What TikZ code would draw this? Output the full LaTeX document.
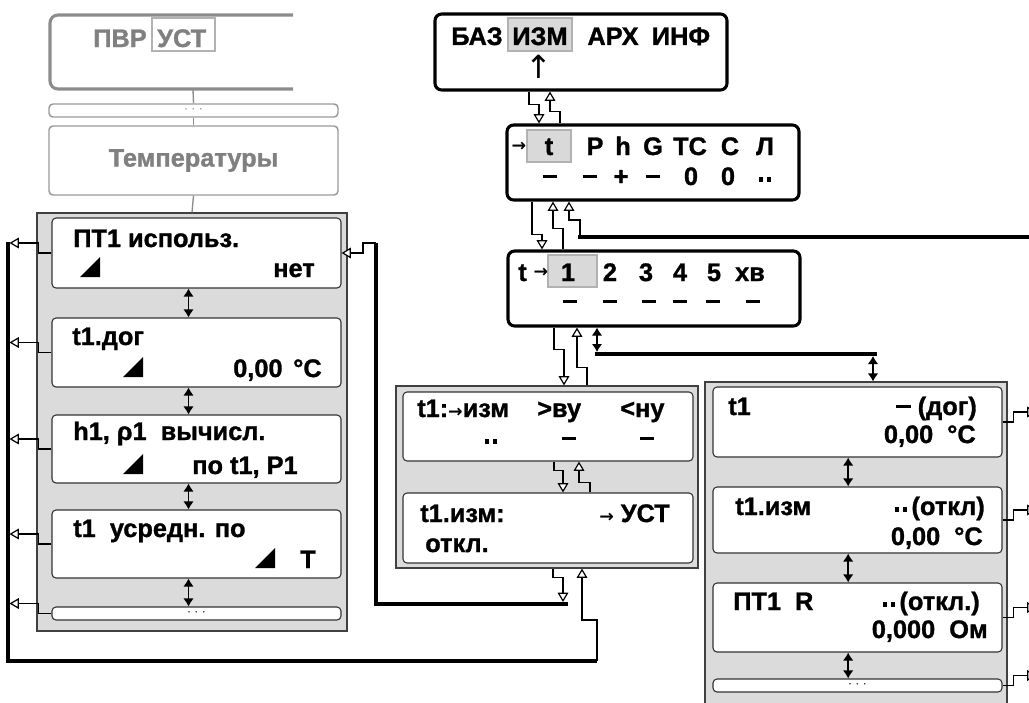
\documentclass[tikz,border=0pt]{standalone}
\usepackage{fontspec}
\setmainfont{Liberation Sans}[BoldFeatures={FakeBold=1.2}]
\newfontfamily\symfont{DejaVu Sans}
\usetikzlibrary{arrows.meta,calc}
\newcommand{\dts}{\rule[2.5pt]{3.5pt}{3.5pt}\hspace{2.5pt}\rule[2.5pt]{3.5pt}{3.5pt}}
\newcommand{\dsh}{\rule[5.5pt]{11pt}{2.3pt}}
\newcommand{\ra}{{\symfont\bfseries\fontsize{13}{13}\selectfont →}}
\tikzset{
  txt/.style={font=\fontsize{19}{21}\selectfont\bfseries, inner sep=0pt},
  gtx/.style={text=black!50},
  sz/.style 2 args={minimum width=#1*0.75pt, minimum height=#2*0.75pt},
  scr/.style={draw, line width=2.3pt, rounded corners=5pt, fill=white, inner sep=0pt},
  panel/.style={draw=black!75, fill=black!14, line width=0.8pt, inner sep=0pt},
  lbox/.style={draw=black!80, fill=white, line width=0.8pt, rounded corners=3pt, inner sep=0pt},
  gbox/.style={draw=black!40, line width=1.1pt, rounded corners=3pt, inner sep=0pt},
  hl/.style={fill=black!15, draw=black!30, line width=1pt, inner sep=0pt},
  oarr/.style={-{Triangle[length=7pt,width=8pt,fill=white]}, line width=0.9pt},
  updn/.style={{Latex[length=6pt,width=8pt]}-{Latex[length=6pt,width=8pt]}, line width=1.2pt},
  bus/.style={line width=3pt},
  gline/.style={draw=black!45, line width=1pt},
  dotz/.style={font=\fontsize{9}{9}\selectfont, inner sep=0pt},
}

\begin{document}
\begin{tikzpicture}[x=0.75pt,y=-0.75pt]
\useasboundingbox (0,0) rectangle (1029,703);

% upper left, grey part
\draw[draw=black!45, line width=2.3pt, rounded corners=6pt] (293,15) -- (50,15) -- (50,89) -- (293,89);
\coordinate (pvrB) at (193,89);
\node[txt,gtx,anchor=base west] (pvr) at (93,47) {ПВР};
\node[draw=black!30, line width=1.5pt, sz={63}{33}] (ust) at (183.5,34.5) {};
\node[txt,gtx,anchor=base west] (ustt) at (157,47) {УСТ};
\node[gbox,sz={289}{13}] (dots1) at (193.5,110.5) {};
\node[dotz,text=black!50] (dots1t) at (dots1) {· · ·};
\node[gbox,sz={289}{69}] (temp) at (193.5,160.5) {};
\node[txt,gtx] (tempt) at (temp) {Температуры};

% panels
\node[panel,sz={310}{418}] (LP) at (192,422) {};
\node[panel,sz={302}{182}] (MP) at (547,477) {};
\node[panel,sz={302}{338}] (RP) at (856,551) {};

% screens
\node[scr,sz={292}{76}] (baz) at (581,52) {};
\node[scr,sz={292}{75}] (tpan) at (653,162.5) {};
\node[scr,sz={292}{75}] (t1pan) at (654,288.5) {};

% left boxes
\node[lbox,sz={289}{70}] (L1) at (196.5,253) {};
\node[lbox,sz={289}{69}] (L2) at (196.5,352.5) {};
\node[lbox,sz={289}{68}] (L3) at (196.5,449) {};
\node[lbox,sz={289}{68}] (L4) at (196.5,544) {};
\node[lbox,sz={289}{13}] (L5) at (196.5,613.5) {};
% middle boxes
\node[lbox,sz={290}{69}] (M1) at (548,426.5) {};
\node[lbox,sz={290}{70}] (M2) at (548,528) {};
% right boxes
\node[lbox,sz={289}{70}] (R1) at (857.5,422) {};
\node[lbox,sz={289}{66}] (R2) at (857.5,520) {};
\node[lbox,sz={289}{69}] (R3) at (857.5,617.5) {};
\node[lbox,sz={289}{13}] (R4) at (857.5,685.5) {};

% highlights
\node[hl,sz={64}{33}] (hl1) at (540,34.5) {};
\node[hl,sz={44}{32}] (hl2) at (549,146) {};
\node[hl,sz={49}{32}] (hl3) at (572.5,271) {};

% texts: top screen
\node[txt,anchor=base east] (bz1) at (503,45) {БАЗ};
\node[txt,anchor=base] (bz2) at (540,45) {ИЗМ};
\node[txt,anchor=base] (bz3) at (613,45) {АРХ};
\node[txt,anchor=base] (bz4) at (681,45) {ИНФ};
\node[inner sep=0pt,font=\symfont\fontsize{24}{24}\selectfont] (bz5) at (539,67) {↑};

% channel screen
\node[inner sep=0pt] (tp0) at (519,147) {\ra};
\foreach \x/\s in {549/t,595/P,623/h,653/G,690/TC,730/C,765/Л}
  \node[txt,anchor=base] (ta\x) at (\x,155) {\s};
\foreach \x/\s in {550/\dsh,590/\dsh,621/+,653/\dsh,691/0,728/0,765/\dts}
  \node[txt,anchor=base] (tb\x) at (\x,185) {\s};

% sensor screen
\node[txt,anchor=base west] (t1a) at (518,281) {t};
\node[inner sep=0pt] (t1b) at (541,273) {\ra};
\foreach \x/\s in {568/1,610/2,646/3,680/4,714/5,750/хв}
  \node[txt,anchor=base] (tc\x) at (\x,281) {\s};
\foreach \x in {570,610,649,680,713,753}
  \node[txt,anchor=base] (td\x) at (\x,310) {\dsh};

% left texts
\node[txt,anchor=base west] (l1a) at (73,247) {ПТ1 использ.};
\node[txt,anchor=base east] (l1b) at (315,277) {нет};
\node[txt,anchor=base west] (l2a) at (72,345) {t1.дог};
\node[txt,anchor=base west] (l2b) at (233,377) {0,00};
\node[txt,anchor=base west] (l2c) at (293,377) {°C};
\node[txt,anchor=base west] (l3a) at (73,440) {h1, ρ1\ \ вычисл.};
\node[txt,anchor=base west] (l3b) at (192,474) {по t1, P1};
\node[txt,anchor=base west] (l4a) at (73,537) {t1\ \ усредн. по};
\node[txt,anchor=base west] (l4b) at (300,568) {T};
\node[dotz] (l5t) at (L5) {· · ·};
\fill (80,277) -- (100,257) -- (100,277) -- cycle;
\fill (123,377) -- (143,357) -- (143,377) -- cycle;
\fill (123,474) -- (143,454) -- (143,474) -- cycle;
\fill (255,568) -- (275,548) -- (275,568) -- cycle;

% middle texts
\node[txt,anchor=base west] (m1a) at (417,417) {t1:\ra изм};
\node[txt,anchor=base west] (m1b) at (537,417) {>ву};
\node[txt,anchor=base west] (m1c) at (620,417) {<ну};
\node[txt,anchor=base] (m1d) at (491,447) {\dts};
\node[txt,anchor=base] (m1e) at (569,447) {\dsh};
\node[txt,anchor=base] (m1f) at (647,447) {\dsh};
\node[txt,anchor=base west] (m2a) at (420,522) {t1.изм:};
\node[txt,anchor=base east] (m2b) at (670,522) {\ra\ УСТ};
\node[txt,anchor=base west] (m2c) at (425,552) {откл.};

% right texts
\node[txt,anchor=base west] (r1a) at (728,415) {t1};
\node[txt,anchor=base east] (r1b) at (977,415) {\dsh\ (дог)};
\node[txt,anchor=base east] (r1c) at (976,443) {0,00\ \ °C};
\node[txt,anchor=base west] (r2a) at (735,515) {t1.изм};
\node[txt,anchor=base east] (r2b) at (985,515) {\dts\,(откл)};
\node[txt,anchor=base east] (r2c) at (983,545) {0,00\ \ °C};
\node[txt,anchor=base west] (r3a) at (733,610) {ПТ1\ \ R};
\node[txt,anchor=base east] (r3b) at (980,610) {\dts\,(откл.)};
\node[txt,anchor=base east] (r3c) at (988,638) {0,000\ \ Ом};
\node[dotz] (r4t) at (R4) {· · ·};

% grey chain
\draw[gline] (pvrB) -- (dots1.north);
\draw[gline] (dots1.south) -- (temp.north);
\draw[gline] (temp.south) -- (LP.north);

% buses
\coordinate (busT) at (578,237);
\coordinate (busM1) at (595,354);
\coordinate (busM2) at (877,354);
\coordinate (busI) at (568,604);
\coordinate (busIt) at (376,243);
\coordinate (busB) at (597,661);
\coordinate (busL) at (8,242);
\draw[bus] (busT) -- ++(470,0);
\draw[bus] (busM1) -- (busM2);
\draw[bus] (busI) -| (busIt);
\draw[bus] (busB) -| (busL);

% top screen <-> channel screen
\draw[oarr] ($(baz.south)+(-52,0)$) -- ++(0,13) -| ($(tpan.north)+(-114,0)$);
\draw[oarr] ($(tpan.north)+(-93,0)$) -- ++(0,-12) -| ($(baz.south)+(-31,0)$);
% channel screen <-> sensor screen
\draw[oarr] ($(tpan.south)+(-121,0)$) -- ++(0,33) -| ($(t1pan.north)+(-112,0)$);
\draw[oarr] ($(t1pan.north)+(-91,0)$) -- ++(0,-21) -| ($(tpan.south)+(-100,0)$);
\draw[oarr] ($(busT)+(2,0)$) -- ++(0,-17) -| ($(tpan.south)+(-84,0)$);
% sensor screen <-> panels
\draw[oarr] ($(t1pan.south)+(-100,0)$) -- ++(0,22) -| ($(MP.north)+(17,0)$);
\draw[oarr] ($(MP.north)+(40,0)$) -- ++(0,-18) -| ($(t1pan.south)+(-77,0)$);
\draw[updn] ($(t1pan.south)+(-57,0)$) -- ($(busM1)+(2,-2)$);
\draw[updn] ($(busM2)+(-4,2)$) -- ($(RP.north)+(17,0)$);
% middle panel
\draw[oarr] ($(M1.south)+(6,0)$) -- ++(0,9) -| ($(M2.north)+(15,0)$);
\draw[oarr] ($(M2.north)+(42,0)$) -- ++(0,-10) -| ($(M1.south)+(31,0)$);
\draw[oarr] ($(MP.south)+(6,0)$) -- ++(0,9) -| ($(busI)+(-5,-2)$);
\draw[oarr] (busB) -- ++(0,-41) -| ($(MP.south)+(35,0)$);
\draw[oarr] (busIt) -- ++(-13,0) |- (L1.east);

% left panel
\foreach \a/\b in {L1/L2,L2/L3,L3/L4,L4/L5}
  \draw[updn] ([xshift=-6pt]\a.south) -- ([xshift=-6pt]\b.north);
\foreach \a in {L1,L2,L3,L4,L5}
  \draw[oarr] (\a.west) -- ++(-13,0) |- ($(\a.west)+(-42,-10)$);
% right panel
\foreach \a/\b in {R1/R2,R2/R3,R3/R4}
  \draw[updn] ([xshift=-7pt]\a.south) -- ([xshift=-7pt]\b.north);
\foreach \a in {R1,R2,R3,R4}
  \draw[oarr] (\a.east) -- ++(11,0) |- ($(\a.east)+(34,-10)$);
\end{tikzpicture}
\end{document}
